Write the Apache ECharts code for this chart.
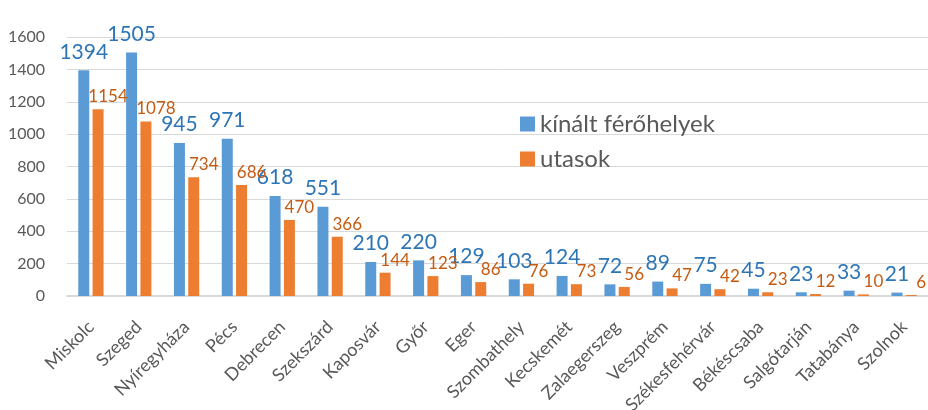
<style>body { margin: 0; }</style>
<script src="https://cdn.jsdelivr.net/npm/echarts/dist/echarts.min.js"></script>
<div id="chart" style="width: 928px; height: 410px;"></div>
<script>
  var cities = ['Miskolc', 'Szeged', 'Nyíregyháza', 'Pécs', 'Debrecen', 'Szekszárd', 'Kaposvár', 'Győr', 'Eger',
    'Szombathely', 'Kecskemét', 'Zalaegerszeg', 'Veszprém', 'Székesfehérvár', 'Békéscsaba', 'Salgótarján', 'Tatabánya', 'Szolnok'];
  var offered = [1394, 1505, 945, 971, 618, 551, 210, 220, 129, 103, 124, 72, 89, 75, 45, 23, 33, 21];
  var passengers = [1154, 1078, 734, 686, 470, 366, 144, 123, 86, 76, 73, 56, 47, 42, 23, 12, 10, 6];

  var font = 'Lato, "Open Sans", sans-serif';
  var chart = echarts.init(document.getElementById('chart'));

  var option = {
    animation: false,
    textStyle: { fontFamily: font },
    grid: { left: 67, right: 0, top: 37, bottom: 114, outerBoundsMode: 'none' },
    legend: {
      orient: 'vertical',
      left: 515,
      top: 107,
      itemWidth: 15,
      itemHeight: 15,
      itemGap: 11,
      icon: 'rect',
      textStyle: { fontSize: 24, color: '#595959', fontFamily: font },
      data: ['kínált férőhelyek', 'utasok']
    },
    xAxis: {
      type: 'category',
      data: cities,
      axisLine: { lineStyle: { color: '#d9d9d9', width: 2 } },
      axisTick: { show: false },
      axisLabel: { rotate: 45, interval: 0, fontSize: 18, color: '#595959', margin: 28 }
    },
    yAxis: {
      type: 'value',
      min: 0,
      max: 1600,
      interval: 200,
      axisLine: { show: false },
      axisTick: { show: false },
      axisLabel: { fontSize: 16, color: '#595959', margin: 22, formatter: function (v) { return String(v); } },
      splitLine: { lineStyle: { color: '#d9d9d9', width: 1 } }
    },
    series: [
      {
        name: 'kínált férőhelyek',
        type: 'bar',
        data: offered,
        barWidth: 11,
        barGap: '30%',
        itemStyle: { color: '#5b9bd5' },
        label: { show: true, position: 'top', distance: 8, fontSize: 21, color: '#2e75b6' }
      },
      {
        name: 'utasok',
        type: 'bar',
        data: passengers,
        barWidth: 11,
        itemStyle: { color: '#ed7d31' },
        label: { show: true, position: 'top', distance: 4, offset: [10, 0], fontSize: 17, color: '#c55a11' }
      }
    ]
  };

  chart.setOption(option);
</script>
